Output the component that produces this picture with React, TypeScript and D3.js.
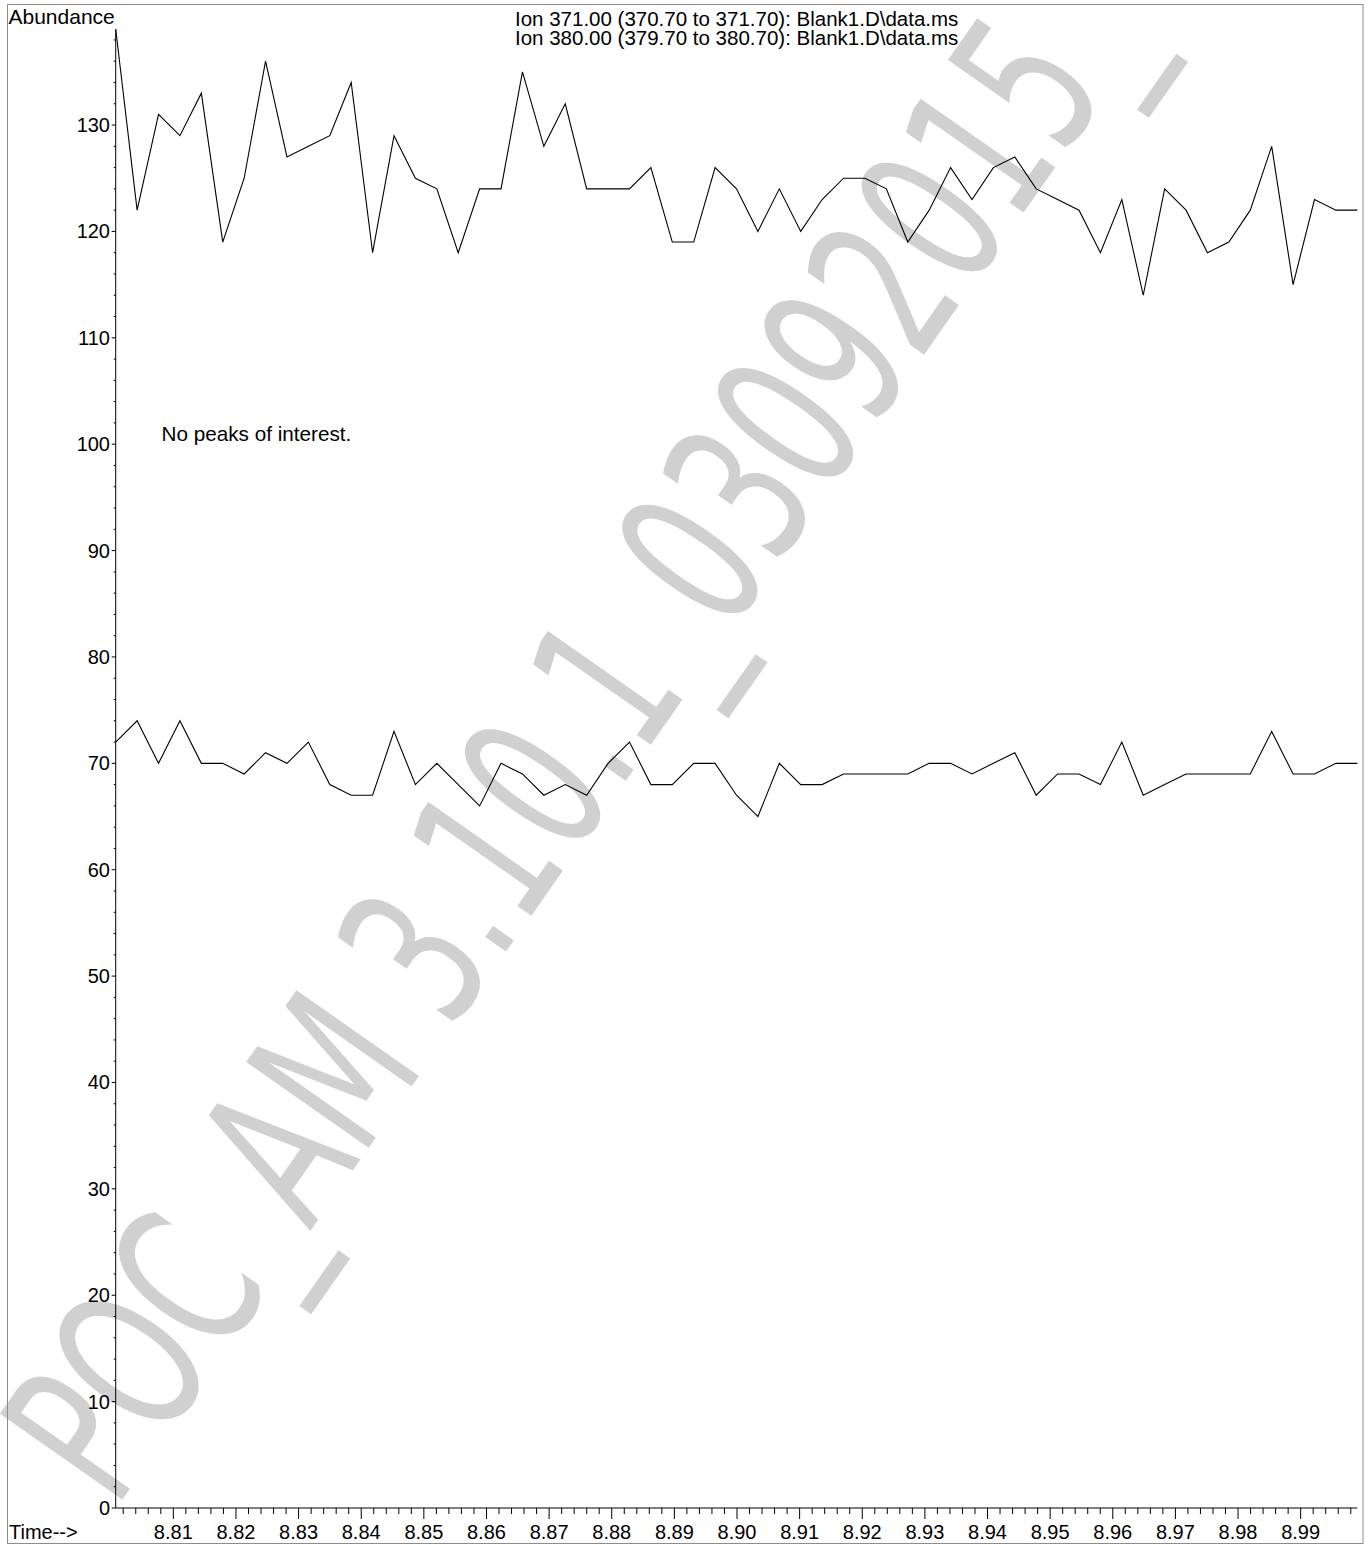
import React from "react";
import * as d3 from "d3";

// ---- data ----
const scanStart = 8.8008; // min, first scan time
const scanStep = 0.003418; // min between scans
const ion371 = [139,122,131,129,133,119,125,136,127,128,129,134,118,129,125,124,118,124,124,135,128,132,124,124,124,126,119,119,126,124,120,124,120,123,125,125,124,119,122,126,123,126,127,124,123,122,118,123,114,124,122,118,119,122,128,115,123,122,122];
const ion380 = [72,74,70,74,70,70,69,71,70,72,68,67,67,73,68,70,68,66,70,69,67,68,67,70,72,68,68,70,70,67,65,70,68,68,69,69,69,69,70,70,69,70,71,67,69,69,68,72,67,68,69,69,69,69,73,69,69,70,70];
const ionLabels = [
  "Ion 371.00 (370.70 to 371.70): Blank1.D\\data.ms",
  "Ion 380.00 (379.70 to 380.70): Blank1.D\\data.ms",
];
const xTickLabels = ["8.81","8.82","8.83","8.84","8.85","8.86","8.87","8.88","8.89","8.90","8.91","8.92","8.93","8.94","8.95","8.96","8.97","8.98","8.99"];
const yTickValues = [0,10,20,30,40,50,60,70,80,90,100,110,120,130];
const noteText = "No peaks of interest.";
const watermark = "POC_AM 3.10.1_03092015_";

const W = 1371;
const H = 1545;
const FONT = "'Liberation Sans', Arial, Helvetica, sans-serif";

export default function App() {
  const times = ion371.map((_, i) => scanStart + i * scanStep);
  const x = d3.scaleLinear().domain([8.8, 9.0]).range([110.7, 1363.3]);
  const y = d3.scaleLinear().domain([0, 139]).range([1508, 29.3]);
  const x0 = x(times[0]);
  const x1 = x(times[times.length - 1]);

  const line = d3
    .line<number>()
    .x((_, i) => x(times[i]))
    .y((d) => y(d));

  const minorY = d3.range(0, 139, 2).filter((v) => v % 10 !== 0);
  const minorX = d3
    .range(8802, 9000, 2)
    .filter((v) => v % 10 !== 0)
    .map((v) => v / 1000);

  return (
    <svg
      width={W}
      height={H}
      style={{ position: "absolute", left: 0, top: 0, background: "#fff" }}
      fontFamily={FONT}
    >
      <rect x={0} y={0} width={W} height={H} fill="#fff" />
      {/* watermark */}
      <g transform="translate(115,1510) rotate(-55) scale(0.64,1)">
        <text
          x={0}
          y={0}
          fontSize={205}
          fontFamily="'DejaVu Sans', sans-serif"
          fontWeight={400}
          fill="#d0d0d0"
        >
          {watermark}
        </text>
      </g>
      {/* frame */}
      <rect x={7.5} y={4.5} width={1355.5} height={1539} fill="none" stroke="#8c8c8c" strokeWidth={1} />

      {/* axes */}
      <line x1={x0} x2={x0} y1={y(139)} y2={y(0)} stroke="#000" strokeWidth={1} />
      <line x1={x0} x2={x1} y1={y(0)} y2={y(0)} stroke="#000" strokeWidth={1} />
      {yTickValues.map((v) => (
        <g key={"yt" + v}>
          <line x1={x0 - 4} x2={x0} y1={y(v)} y2={y(v)} stroke="#000" />
          <text x={110} y={y(v) + 7} fontSize={20} textAnchor="end" fill="#000">
            {v}
          </text>
        </g>
      ))}
      {minorY.map((v) => (
        <line key={"ym" + v} x1={x0 - 2} x2={x0} y1={y(v)} y2={y(v)} stroke="#000" />
      ))}
      {xTickLabels.map((t) => (
        <g key={"xt" + t}>
          <line x1={x(+t)} x2={x(+t)} y1={y(0)} y2={y(0) + 11} stroke="#000" />
          <text x={x(+t)} y={1539} fontSize={20} textAnchor="middle" fill="#000">
            {t}
          </text>
        </g>
      ))}
      {minorX.map((t) => (
        <line key={"xm" + t} x1={x(t)} x2={x(t)} y1={y(0)} y2={y(0) + 6} stroke="#000" />
      ))}

      {/* traces */}
      <path d={line(ion371) || ""} fill="none" stroke="#000" strokeWidth={1.1} strokeLinejoin="miter" />
      <path d={line(ion380) || ""} fill="none" stroke="#000" strokeWidth={1.1} strokeLinejoin="miter" />

      {/* texts */}
      <text x={8.5} y={24} fontSize={21} fill="#000">Abundance</text>
      <text x={9} y={1539} fontSize={20} fill="#000">Time--&gt;</text>
      {ionLabels.map((s, i) => (
        <text key={s} x={515} y={26 + i * 19} fontSize={20.5} fill="#000">
          {s}
        </text>
      ))}
      <text x={161.5} y={440.7} fontSize={20.7} fill="#000">{noteText}</text>
    </svg>
  );
}
